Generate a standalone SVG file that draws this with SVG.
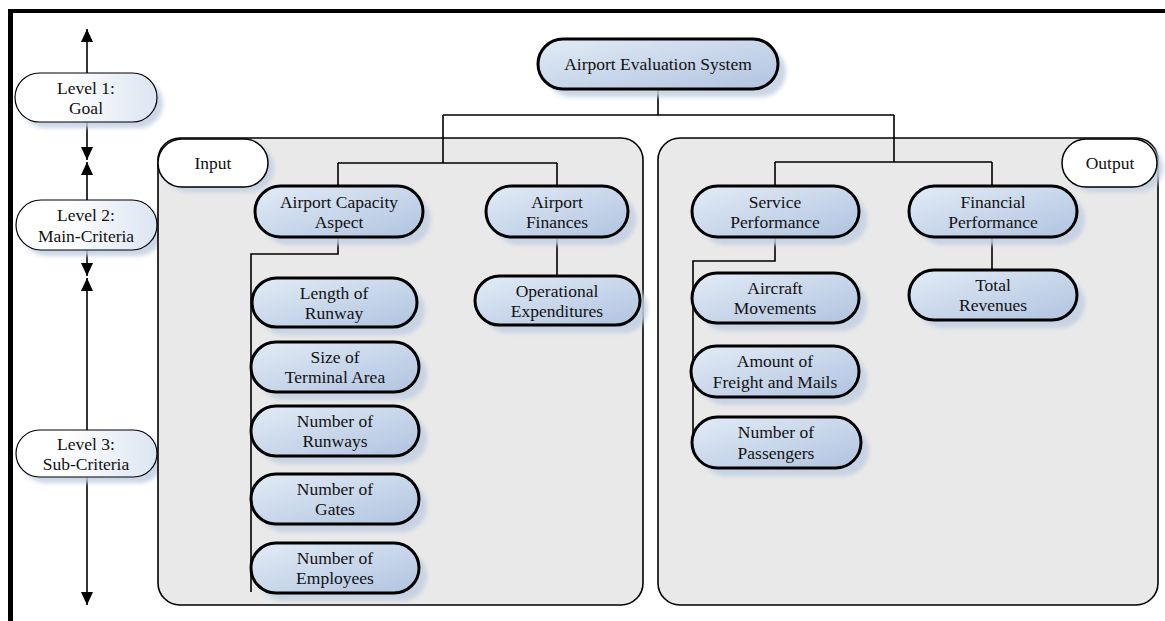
<svg xmlns="http://www.w3.org/2000/svg" width="1165" height="621" viewBox="0 0 1165 621">
<defs>
<linearGradient id="gNode" x1="0" y1="0" x2="1" y2="1">
<stop offset="0" stop-color="#e3ecf7"/>
<stop offset="1" stop-color="#b0c3df"/>
</linearGradient>
<linearGradient id="gLevel" x1="0" y1="0" x2="1" y2="0">
<stop offset="0.35" stop-color="#ffffff"/>
<stop offset="1" stop-color="#dbe5f2"/>
</linearGradient>
<filter id="blur" x="-20%" y="-30%" width="140%" height="160%">
<feGaussianBlur stdDeviation="2"/>
</filter>
<marker id="arrD" markerWidth="12" markerHeight="14" refX="6" refY="13" orient="0" markerUnits="userSpaceOnUse" viewBox="0 0 12 14">
<path d="M0,0 L12,0 L6,13 Z" fill="#000"/>
</marker>
<marker id="arrU" markerWidth="12" markerHeight="14" refX="6" refY="1" orient="0" markerUnits="userSpaceOnUse" viewBox="0 0 12 14">
<path d="M0,14 L12,14 L6,1 Z" fill="#000"/>
</marker>
</defs>
<style>
text { font-family: "Liberation Serif", "Times New Roman", serif; font-size: 17.5px; fill: #111; text-anchor: middle; }
.node { fill: url(#gNode); stroke: #000; stroke-width: 3; }
.shadow { fill: #c2cfe2; filter: url(#blur); opacity: 0.85; }
.lvl { fill: url(#gLevel); stroke: #000; stroke-width: 1.2; }
.lbl { fill: #ffffff; stroke: #000; stroke-width: 1.5; }
.grp { fill: #e9e9e9; stroke: #000; stroke-width: 1.6; }
.con { fill: none; stroke: #000; stroke-width: 1.6; }
.axis { fill: none; stroke: #000; stroke-width: 1.6; }
</style>
<rect width="1165" height="621" fill="#ffffff"/>
<g id="frame">
<line x1="8" y1="11" x2="1165" y2="11" stroke="#000" stroke-width="4"/>
<line x1="10.5" y1="9" x2="10.5" y2="621" stroke="#000" stroke-width="5"/>
</g>
<g id="axis">
<line class="axis" x1="87" y1="73" x2="87" y2="29" marker-end="url(#arrU)"/>
<line class="axis" x1="87" y1="122" x2="87" y2="160" marker-end="url(#arrD)"/>
<line class="axis" x1="87" y1="200" x2="87" y2="162" marker-end="url(#arrU)"/>
<line class="axis" x1="87" y1="250" x2="87" y2="276" marker-end="url(#arrD)"/>
<line class="axis" x1="87" y1="430" x2="87" y2="278" marker-end="url(#arrU)"/>
<line class="axis" x1="87" y1="477" x2="87" y2="605" marker-end="url(#arrD)"/>
</g>
<g id="level1">
<rect class="shadow" x="21" y="79" width="142" height="49" rx="24.5"/>
<rect class="lvl" x="15" y="73" width="142" height="49" rx="24.5"/>
<text x="86" y="94">Level 1:</text>
<text x="86" y="114">Goal</text>
</g>
<g id="level2">
<rect class="shadow" x="22" y="206" width="141" height="50" rx="25"/>
<rect class="lvl" x="16" y="200" width="141" height="50" rx="25"/>
<text x="86" y="221">Level 2:</text>
<text x="86" y="242">Main-Criteria</text>
</g>
<g id="level3">
<rect class="shadow" x="22" y="436" width="141" height="47" rx="23.5"/>
<rect class="lvl" x="16" y="430" width="141" height="47" rx="23.5"/>
<text x="86" y="450">Level 3:</text>
<text x="86" y="470">Sub-Criteria</text>
</g>
<g id="group-input">
<rect class="grp" x="158" y="138" width="485" height="467" rx="22"/>
</g>
<g id="group-output">
<rect class="grp" x="658" y="138" width="500" height="467" rx="22"/>
</g>
<g id="connectors">
<path class="con" d="M658,89 V115 M443,115 H894 M443,115 V163 M894,115 V162"/>
<path class="con" d="M338,163 H557 M338,163 V186 M557,163 V186"/>
<path class="con" d="M775,162 H992 M775,162 V186 M992,162 V186"/>
<path class="con" d="M338,237 V254 H251 V592"/>
<path class="con" d="M557,237 V276"/>
<path class="con" d="M775,237 V261 H693 V440"/>
<path class="con" d="M992,237 V270"/>
</g>
<g id="input-label">
<rect class="shadow" x="164" y="144" width="110" height="48" rx="24"/>
<rect class="lbl" x="158" y="139" width="110" height="48" rx="24"/>
<text x="213" y="169">Input</text>
</g>
<g id="output-label">
<rect class="shadow" x="1068" y="144" width="95" height="48" rx="24"/>
<rect class="lbl" x="1062" y="139" width="95" height="48" rx="24"/>
<text x="1110" y="169">Output</text>
</g>
<g id="goal">
<rect class="shadow" x="546" y="47" width="240" height="50" rx="25"/>
<rect class="node" x="538" y="39" width="240" height="50" rx="25"/>
<text x="658" y="70">Airport Evaluation System</text>
</g>
<g id="capacity">
<rect class="shadow" x="263" y="194" width="168" height="51" rx="25.5"/>
<rect class="node" x="255" y="186" width="168" height="51" rx="25.5"/>
<text x="339" y="208">Airport Capacity</text>
<text x="339" y="228">Aspect</text>
</g>
<g id="finances">
<rect class="shadow" x="494" y="194" width="142" height="51" rx="25.5"/>
<rect class="node" x="486" y="186" width="142" height="51" rx="25.5"/>
<text x="557" y="208">Airport</text>
<text x="557" y="228">Finances</text>
</g>
<g id="length-runway">
<rect class="shadow" x="260" y="286" width="165" height="49" rx="24.5"/>
<rect class="node" x="252" y="278" width="165" height="49" rx="24.5"/>
<text x="334" y="299">Length of</text>
<text x="334" y="319">Runway</text>
</g>
<g id="terminal-area">
<rect class="shadow" x="259" y="350" width="168" height="50" rx="25"/>
<rect class="node" x="251" y="342" width="168" height="50" rx="25"/>
<text x="335" y="363">Size of</text>
<text x="335" y="383">Terminal Area</text>
</g>
<g id="num-runways">
<rect class="shadow" x="259" y="414" width="168" height="50" rx="25"/>
<rect class="node" x="251" y="406" width="168" height="50" rx="25"/>
<text x="335" y="427">Number of</text>
<text x="335" y="447">Runways</text>
</g>
<g id="num-gates">
<rect class="shadow" x="259" y="482" width="168" height="50" rx="25"/>
<rect class="node" x="251" y="474" width="168" height="50" rx="25"/>
<text x="335" y="495">Number of</text>
<text x="335" y="515">Gates</text>
</g>
<g id="num-employees">
<rect class="shadow" x="259" y="551" width="168" height="50" rx="25"/>
<rect class="node" x="251" y="543" width="168" height="50" rx="25"/>
<text x="335" y="564">Number of</text>
<text x="335" y="584">Employees</text>
</g>
<g id="opex">
<rect class="shadow" x="483" y="284" width="165" height="49" rx="24.5"/>
<rect class="node" x="475" y="276" width="165" height="49" rx="24.5"/>
<text x="557" y="297">Operational</text>
<text x="557" y="317">Expenditures</text>
</g>
<g id="service">
<rect class="shadow" x="700" y="194" width="167" height="51" rx="25.5"/>
<rect class="node" x="692" y="186" width="167" height="51" rx="25.5"/>
<text x="775" y="208">Service</text>
<text x="775" y="228">Performance</text>
</g>
<g id="financial">
<rect class="shadow" x="917" y="194" width="168" height="51" rx="25.5"/>
<rect class="node" x="909" y="186" width="168" height="51" rx="25.5"/>
<text x="993" y="208">Financial</text>
<text x="993" y="228">Performance</text>
</g>
<g id="aircraft">
<rect class="shadow" x="700" y="281" width="167" height="50" rx="25"/>
<rect class="node" x="692" y="273" width="167" height="50" rx="25"/>
<text x="775" y="294">Aircraft</text>
<text x="775" y="314">Movements</text>
</g>
<g id="freight">
<rect class="shadow" x="699" y="354" width="168" height="51" rx="25.5"/>
<rect class="node" x="691" y="346" width="168" height="51" rx="25.5"/>
<text x="775" y="367">Amount of</text>
<text x="775" y="388">Freight and Mails</text>
</g>
<g id="passengers">
<rect class="shadow" x="700" y="425" width="169" height="51" rx="25.5"/>
<rect class="node" x="692" y="417" width="169" height="51" rx="25.5"/>
<text x="776" y="438">Number of</text>
<text x="776" y="459">Passengers</text>
</g>
<g id="revenues">
<rect class="shadow" x="917" y="278" width="168" height="50" rx="25"/>
<rect class="node" x="909" y="270" width="168" height="50" rx="25"/>
<text x="993" y="291">Total</text>
<text x="993" y="311">Revenues</text>
</g>
</svg>
